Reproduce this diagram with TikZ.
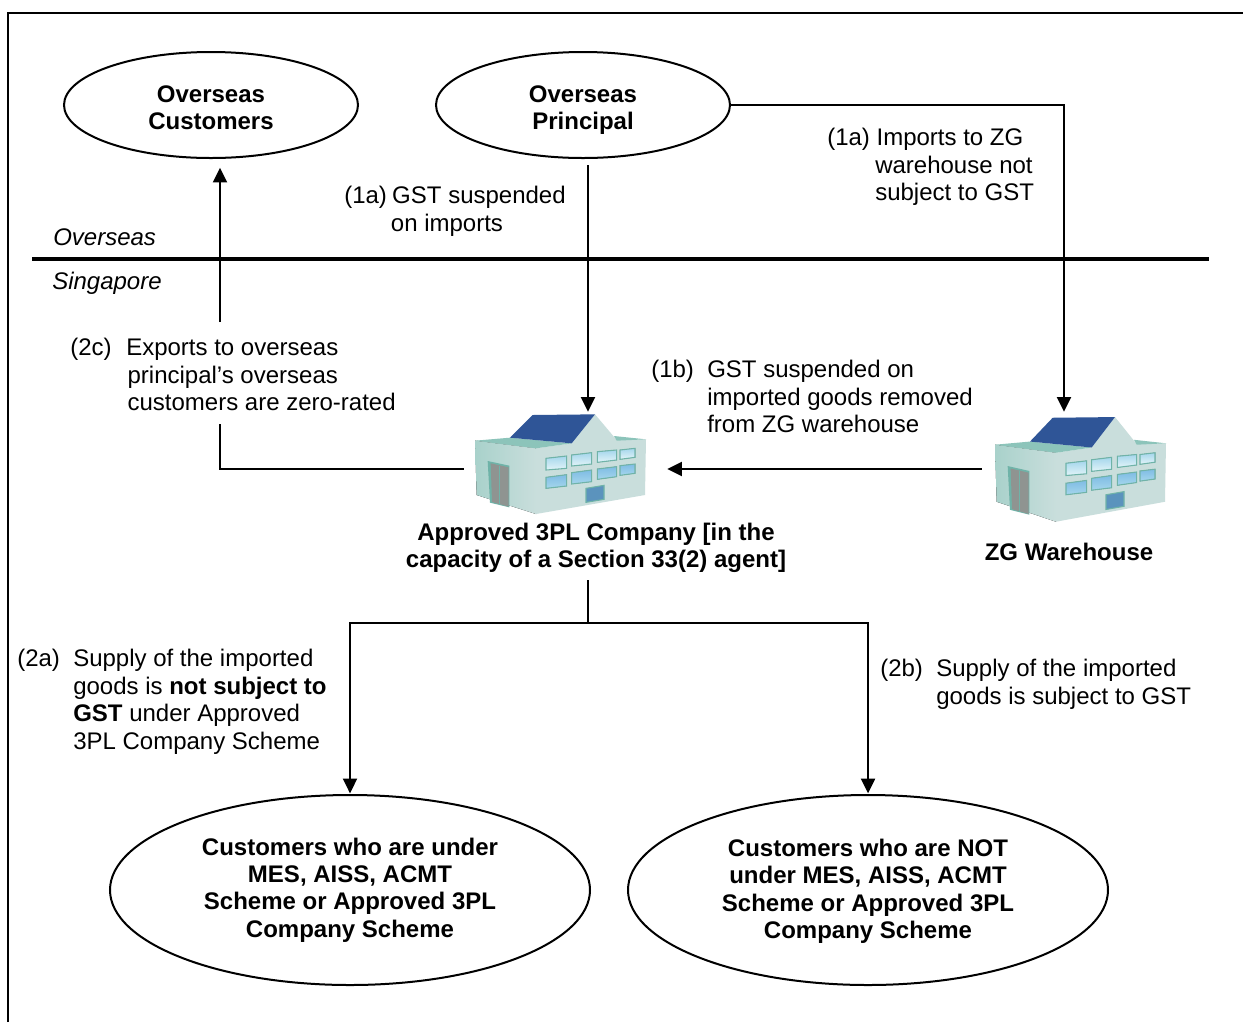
\documentclass[tikz,border=0pt]{standalone}
\usepackage{fontspec}
\setmainfont{Liberation Sans}
\usetikzlibrary{shapes.geometric,arrows.meta}
\definecolor{roofblue}{HTML}{2F5597}
\definecolor{wallleft}{HTML}{B4D8D3}
\definecolor{wallright}{HTML}{C9DEDC}
\definecolor{rooftop}{HTML}{8CC4BA}
\definecolor{trim}{HTML}{6FB3A8}
\definecolor{doorgrey}{HTML}{8F9491}
\definecolor{panetop}{HTML}{E2F4F8}
\definecolor{panelow}{HTML}{A5D6EC}
\definecolor{panedeep}{HTML}{7FBCE4}
\definecolor{doorblue}{HTML}{5B93BD}
\newcommand{\drawbuilding}{%
  \fill[left color=trim!60!white,right color=wallright] (45,122)--(228,145)--(228,342)--(50,285)--cycle;
  \fill[wallright] (228,145)--(335,130)--(405,43)--(470,120)--(558,118)--(555,285)--(228,342)--cycle;
  \fill[rooftop] (45,122)--(150,113)--(335,130)--(228,145)--cycle;
  \fill[rooftop] (462,108)--(558,118)--(470,122)--cycle;
  \fill[roofblue] (218,45)--(405,43)--(335,130)--(150,113)--cycle;
  \fill[trim] (83,183)--(148,197)--(148,322)--(90,308)--cycle;
  \fill[doorgrey] (92,190)--(146,202)--(146,320)--(96,306)--cycle;
  \draw[trim,line width=0.5pt] (118,197)--(118,313);
  \foreach \a/\b/\c/\d/\e/\f/\g/\h in {
    258/175/320/168/320/205/258/210, 335/165/395/158/395/192/335/198,
    412/155/470/150/470/180/412/187, 480/150/525/145/525/172/480/178}{
    \fill[top color=panelow,bottom color=panetop,draw=trim,line width=0.8pt]
      (\a,\b)--(\c,\d)--(\e,\f)--(\g,\h)--cycle;
  }
  \foreach \a/\b/\c/\d/\e/\f/\g/\h in {
    258/232/320/224/320/258/258/265, 335/218/395/210/395/245/335/252,
    412/207/470/200/470/230/412/238, 480/197/525/192/525/220/480/226}{
    \fill[top color=panedeep,bottom color=panelow,draw=trim,line width=0.8pt]
      (\a,\b)--(\c,\d)--(\e,\f)--(\g,\h)--cycle;
  }
  \fill[fill=doorblue,draw=trim,line width=0.8pt] (378,265)--(432,256)--(432,298)--(378,307)--cycle;
}
\newcommand{\hng}[2]{\makebox[#1][l]{#2}}
\tikzset{
  every node/.style={font=\fontsize{18}{20.6}\selectfont},
  oval/.style={draw,ellipse,line width=1.5pt,align=center,inner sep=0pt,font=\fontsize{18}{20.6}\selectfont\bfseries},
  note/.style={anchor=north west,align=left,inner sep=0pt},
  site/.style={inner sep=0pt,font=\fontsize{18}{20.6}\selectfont\itshape,anchor=base west},
  caption/.style={inner sep=0pt,align=center,font=\fontsize{18}{20.6}\selectfont\bfseries},
  slot/.style={inner sep=0pt,rectangle},
  link/.style={line width=1.5pt},
  arrow/.style={line width=1.5pt,-{Triangle[length=11pt,width=10.5pt]}},
  frame/.style={line width=2.2pt},
  border/.style={line width=2.7pt}
}
\begin{document}
\begin{tikzpicture}[x=0.75pt,y=-0.75pt]
\useasboundingbox (0,0) rectangle (1243,1022);
\fill[white] (0,0) rectangle (1243,1022);
\draw[frame] (8,1022)--(8,13)--(1243,13);

\begin{scope}[shift={(460,400)},scale=1/3]\drawbuilding\end{scope}
\begin{scope}[shift={(980,402)},xscale=1/3,yscale=0.35]\drawbuilding\end{scope}

\node[oval,minimum width=220.5pt,minimum height=79.5pt] (oc) at (211,105) {\rule{0pt}{16.7pt}Overseas\\Customers};
\node[oval,minimum width=220.5pt,minimum height=79.5pt] (op) at (583,105) {\rule{0pt}{20.4pt}Overseas\\Principal};
\node[oval,minimum width=360pt,minimum height=142.5pt] (c1) at (350,890) {Customers who are under\\MES, AISS, ACMT\\Scheme or Approved 3PL\\Company Scheme};
\node[oval,minimum width=360pt,minimum height=142.5pt] (c2) at (868,890) {\rule{0pt}{15pt}Customers who are NOT\\under MES, AISS, ACMT\\Scheme or Approved 3PL\\Company Scheme};

\node[slot,minimum width=152.25pt,minimum height=82.5pt] (tpl) at (565.5,469) {};
\node[slot,minimum width=123pt,minimum height=85.5pt] (zg) at (1064,469) {};

\node[caption] (tplcap) at (596,548) {Approved 3PL Company [in the\\capacity of a Section 33(2) agent]};
\node[caption] (zgcap) at (1069,552) {ZG Warehouse};

\node[site] (os) at (53,245) {Overseas};
\node[site] (sg) at (52,289) {Singapore};
\coordinate (dl) at (32,259);
\coordinate (dr) at (1209,259);
\draw[border] (dl)--(dr);

\node[note] (n1) at (344,186) {\hng{36pt}{(1a)}GST suspended\\\hspace*{35pt}on imports};
\node[note] (n2) at (827,128) {\hng{37pt}{(1a)}Imports to ZG\\\hspace*{36pt}warehouse not\\\hspace*{36pt}subject to GST};
\node[note] (n3) at (70,338) {\hng{42pt}{(2c)}Exports to overseas\\\hspace*{43pt}principal’s overseas\\\hspace*{43pt}customers are zero-rated};
\node[note] (n4) at (651,360) {\hng{42pt}{(1b)}GST suspended on\\\hspace*{42pt}imported goods removed\\\hspace*{42pt}from ZG warehouse};
\node[note] (n5) at (17,649) {\hng{42pt}{(2a)}Supply of the imported\\\hspace*{42pt}goods is \textbf{not subject to}\\\hspace*{42pt}\textbf{GST} under Approved\\\hspace*{42pt}3PL Company Scheme};
\node[note] (n6) at (880,659) {\hng{42pt}{(2b)}Supply of the imported\\\hspace*{42pt}goods is subject to GST};

% connectors
\coordinate (upstart) at (220,322);
\draw[arrow,shorten >=6.5pt] (upstart)--(upstart |- oc.south);
\coordinate (upend) at (220,424);
\draw[link] (tpl.west)--(upend |- tpl.west)--(upend);
\coordinate (pdown) at (588,165);
\draw[arrow,shorten >=1.5pt] (pdown)--(pdown |- tpl.north);
\draw[arrow] (op.east)--(zg.north |- op.east)--(zg.north);
\draw[arrow] (zg.west)--(tpl.east);
\coordinate (stem) at (588,580);
\coordinate (junc) at (588,623);
\draw[link] (stem)--(junc);
\draw[arrow,shorten >=0.5pt] (junc)--(c1.north |- junc)--(c1.north);
\draw[arrow,shorten >=0.5pt] (junc)--(c2.north |- junc)--(c2.north);
\end{tikzpicture}
\end{document}
